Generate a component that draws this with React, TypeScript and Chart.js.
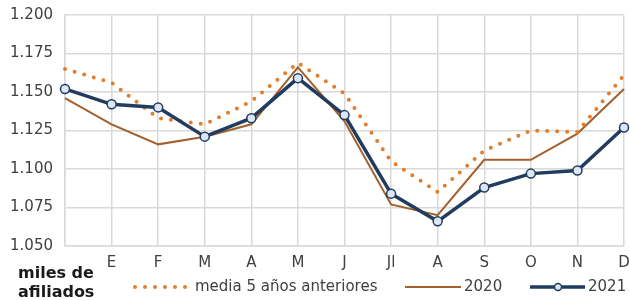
import { useEffect, useRef } from "react";
import { Chart, registerables } from "chart.js";

Chart.register(...registerables);

const categories = ["", "E", "F", "M", "A", "M", "J", "Jl", "A", "S", "O", "N", "D"];
const media5 = [1.165, 1.156, 1.133, 1.129, 1.144, 1.169, 1.149, 1.105, 1.085, 1.112, 1.125, 1.124, 1.161];
const serie2020 = [1.146, 1.129, 1.116, 1.121, 1.129, 1.166, 1.131, 1.077, 1.07, 1.106, 1.106, 1.123, 1.152];
const serie2021 = [1.152, 1.142, 1.14, 1.121, 1.133, 1.159, 1.135, 1.084, 1.066, 1.088, 1.097, 1.099, 1.127];
const seriesLabels = ["media 5 años anteriores", "2020", "2021"];
const unitLabel = ["miles de", "afiliados"];

const FONT = "'DejaVu Sans', sans-serif";
const ORANGE = "#e27d2c";
const BROWN = "#a3602c";
const NAVY = "#213c5e";
const MARKER = "#dbe7f4";
const GRID = "#d9d9d9";
const TEXT = "#404040";

const legendPlugin = {
  id: "customLegend",
  afterDraw(chart: any) {
    const ctx = chart.ctx;
    ctx.save();
    ctx.fillStyle = "#1a1a1a";
    ctx.font = `bold 16px ${FONT}`;
    ctx.textAlign = "left";
    ctx.textBaseline = "alphabetic";
    ctx.fillText(unitLabel[0], 18, 278);
    ctx.fillText(unitLabel[1], 18, 297);

    const y = 287;
    ctx.font = `15px ${FONT}`;
    ctx.textBaseline = "middle";
    const ds = chart.data.datasets;

    ctx.strokeStyle = ds[0].borderColor;
    ctx.lineWidth = 4;
    ctx.lineCap = "round";
    ctx.setLineDash([0, 10]);
    ctx.beginPath();
    ctx.moveTo(135, y);
    ctx.lineTo(188, y);
    ctx.stroke();
    ctx.setLineDash([]);
    ctx.fillStyle = TEXT;
    ctx.fillText(ds[0].label, 195, y);

    ctx.strokeStyle = ds[1].borderColor;
    ctx.lineWidth = 2;
    ctx.lineCap = "butt";
    ctx.beginPath();
    ctx.moveTo(405, y);
    ctx.lineTo(461, y);
    ctx.stroke();
    ctx.fillText(ds[1].label, 464, y);

    ctx.strokeStyle = ds[2].borderColor;
    ctx.lineWidth = 3.5;
    ctx.beginPath();
    ctx.moveTo(530, y);
    ctx.lineTo(585, y);
    ctx.stroke();
    ctx.beginPath();
    ctx.arc(558, y, 3.5, 0, Math.PI * 2);
    ctx.fillStyle = MARKER;
    ctx.fill();
    ctx.lineWidth = 1.5;
    ctx.stroke();
    ctx.fillStyle = TEXT;
    ctx.fillText(ds[2].label, 588, y);
    ctx.restore();
  },
};

export default function App() {
  const ref = useRef<HTMLCanvasElement>(null);
  useEffect(() => {
    document.body.style.margin = "0";
    const chart = new Chart(ref.current!, {
      type: "line",
      data: {
        labels: categories,
        datasets: [
          {
            label: seriesLabels[0],
            data: media5,
            borderColor: ORANGE,
            borderWidth: 4,
            borderDash: [0, 10],
            borderCapStyle: "round",
            pointRadius: 0,
            tension: 0,
            order: 1,
            clip: false,
          } as any,
          {
            label: seriesLabels[1],
            data: serie2020,
            borderColor: BROWN,
            borderWidth: 2,
            pointRadius: 0,
            tension: 0,
            order: 2,
            clip: false,
          },
          {
            label: seriesLabels[2],
            data: serie2021,
            borderColor: NAVY,
            borderWidth: 3.5,
            pointRadius: 4.5,
            pointBackgroundColor: MARKER,
            pointBorderColor: NAVY,
            pointBorderWidth: 1.5,
            tension: 0,
            order: 0,
            clip: false,
          } as any,
        ],
      },
      options: {
        animation: false,
        responsive: true,
        maintainAspectRatio: false,
        layout: { padding: { top: 15, right: 4, left: 0, bottom: 0 } },
        plugins: { legend: { display: false }, tooltip: { enabled: false } },
        scales: {
          x: {
            offset: false,
            grid: { color: GRID, lineWidth: 1.5, drawTicks: false },
            border: { color: GRID, width: 1.5 },
            ticks: {
              color: TEXT,
              font: { family: FONT, size: 15 },
              padding: 8,
              maxRotation: 0,
              autoSkip: false,
            },
            afterFit: (s: any) => {
              s.height = 54;
              s.paddingLeft = 0;
              s.paddingRight = 0;
            },
          },
          y: {
            min: 1.05,
            max: 1.2,
            grid: { color: GRID, lineWidth: 1.5, drawTicks: false },
            border: { color: GRID, width: 1.5 },
            ticks: {
              stepSize: 0.025,
              color: TEXT,
              font: { family: FONT, size: 15 },
              padding: 12,
              callback: (v: any) => Number(v).toFixed(3),
            },
            afterFit: (s: any) => {
              s.width = 65;
              s.paddingTop = 0;
              s.paddingBottom = 0;
            },
          },
        },
      },
      plugins: [legendPlugin],
    });
    return () => chart.destroy();
  }, []);
  return (
    <div style={{ position: "relative", width: 630, height: 300 }}>
      <canvas ref={ref} />
    </div>
  );
}
